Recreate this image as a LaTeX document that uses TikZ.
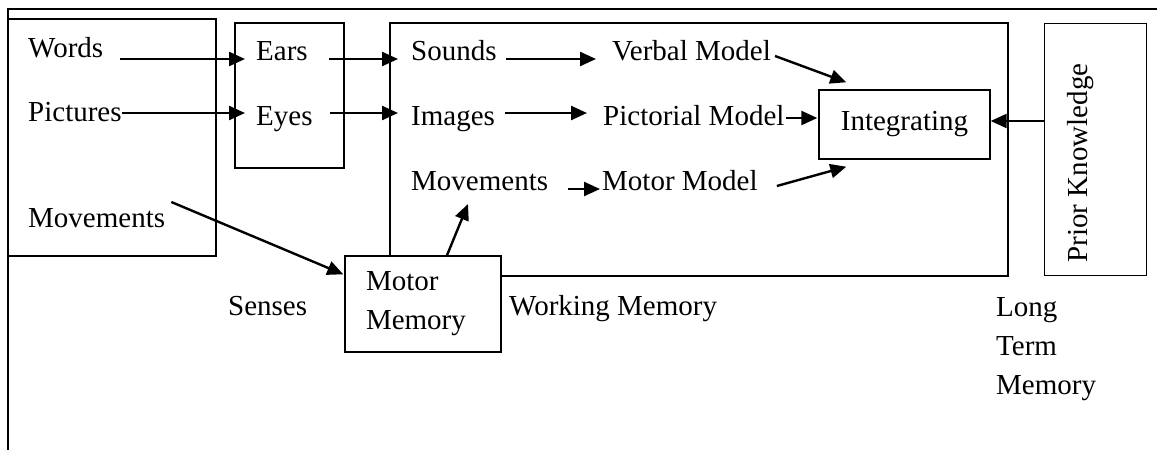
\documentclass[tikz,border=0pt]{standalone}
\usepackage{fontspec}
\setmainfont{Liberation Serif}
\usetikzlibrary{arrows.meta,calc}
\begin{document}
\begin{tikzpicture}[x=1pt,y=-1pt,
  box/.style={draw,line width=1.4pt},
  lbl/.style={inner sep=0pt,anchor=base west,font=\fontsize{29}{39}\selectfont},
  arr/.style={line width=2.4pt,-{Triangle[length=16pt,width=14pt]}}]
\useasboundingbox (0,0) rectangle (1157,450);
% outer frame (top and left only)
\draw[line width=1.4pt] (1157,9) -- (8,9) -- (8,450);
% boxes
\draw[box] (8,19) rectangle (216,256);
\draw[box] (235,23) rectangle (344,168);
\draw[box] (390,23) rectangle (1008,276);
\node[box,minimum width=102pt,minimum height=252pt,inner sep=0pt] (prior) at (1095.5,149.5) {};
\node[rotate=90,inner sep=0pt,font=\fontsize{29}{39}\selectfont] at (1081,163) {Prior Knowledge};
\node[box,minimum width=171pt,minimum height=69pt,inner sep=0pt,font=\fontsize{29}{39}\selectfont] (integ) at (904.5,124.5) {Integrating};
\node[box,fill=white,minimum width=156pt,minimum height=96pt,inner sep=0pt,text width=114pt,align=left,font=\fontsize{29}{39}\selectfont] (mm) at (423,304) {Motor\\Memory};
% texts
\node[lbl] (words) at (28,57) {Words};
\node[lbl] (pictures) at (28,121) {Pictures};
\node[lbl] (movs) at (28,227) {Movements};
\node[lbl] (ears) at (256,60) {Ears};
\node[lbl] (eyes) at (256,125) {Eyes};
\node[lbl] (sounds) at (411,60) {Sounds};
\node[lbl] (images) at (411,125) {Images};
\node[lbl] (movw) at (411,190) {Movements};
\node[lbl] (verbal) at (612,60) {Verbal Model};
\node[lbl] (pictorial) at (603,125) {Pictorial Model};
\node[lbl] (motormodel) at (602,190) {Motor Model};
\node[lbl] (senses) at (228,315) {Senses};
\node[lbl] (wm) at (509,315) {Working Memory};
\node[lbl,align=left] (ltm) at (996,394) {Long\\Term\\Memory};
% arrows
\draw[arr] ($(words.base east)+(17,2)$) -- ($(ears.base west)+(-11,-1)$);
\draw[arr] ($(pictures.base east)+(0,-8)$) -- ($(eyes.base west)+(-11,-12)$);
\draw[arr] ($(ears.base east)+(21,-1)$) -- ($(sounds.base west)+(-13,-1)$);
\draw[arr] ($(eyes.base east)+(17,-12)$) -- ($(images.base west)+(-13,-12)$);
\draw[arr] ($(sounds.base east)+(9,-1)$) -- ($(verbal.base west)+(-16,-1)$);
\draw[arr] ($(images.base east)+(10,-12)$) -- ($(pictorial.base west)+(-16,-12)$);
\draw[arr] ($(movw.base east)+(20,-1)$) -- ($(motormodel.base west)+(-2,-1)$);
\draw[arr] ($(verbal.base east)+(4,-4)$) -- ($(integ.north west)+(28,-7)$);
\draw[arr] ($(pictorial.base east)+(1,-7)$) -- ($(integ.west)+(-1,-6.5)$);
\draw[arr] ($(motormodel.base east)+(19,-4)$) -- ($(integ.south west)+(28,7)$);
\draw[arr] ($(prior.west)+(0,-28.5)$) -- ($(integ.east)+(0,-3.5)$);
\draw[arr] ($(mm.north)+(24,0)$) -- ($(movw.base west)+(57,14)$);
\draw[arr] ($(movs.base east)+(6,-25)$) -- ($(mm.north west)+(-1,19)$);
\end{tikzpicture}
\end{document}
